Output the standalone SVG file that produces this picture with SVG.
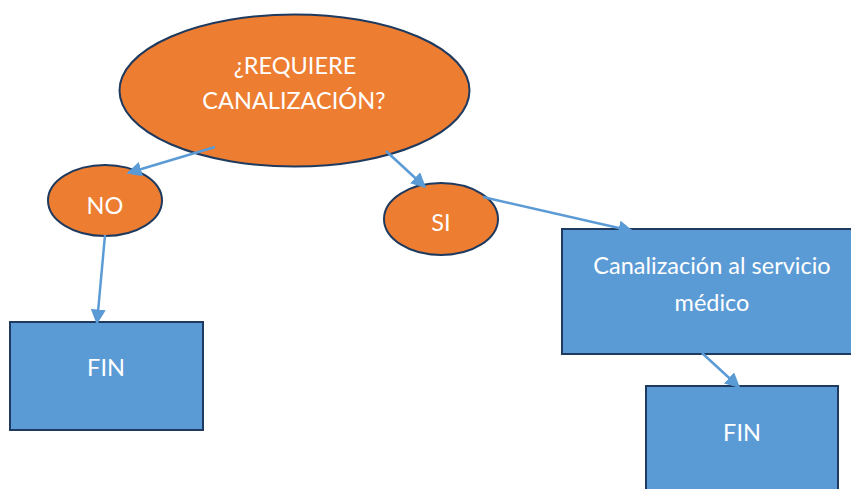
<svg xmlns="http://www.w3.org/2000/svg" width="851" height="489" viewBox="0 0 851 489">
<style>
.o{fill:#ED7D31;stroke:#1F3A5F;stroke-width:2}
.b{fill:#5B9BD5;stroke:#1F3A5F;stroke-width:2}
.t{fill:#fff;font-family:Lato,"Open Sans","Liberation Sans",sans-serif;font-size:23.5px;text-anchor:middle}
.c{stroke:#5B9BD5;stroke-width:2.5;fill:none;marker-end:url(#ah)}
</style>
<defs>
<marker id="ah" viewBox="0 0 10 10" refX="9" refY="5" markerWidth="6" markerHeight="6" markerUnits="strokeWidth" orient="auto">
<path d="M0,0 L10,5 L0,10 Z" fill="#5B9BD5"/>
</marker>
</defs>
<rect width="851" height="489" fill="#fff"/>
<g id="q"><ellipse class="o" cx="294.5" cy="90.5" rx="175" ry="76"/>
<text class="t" x="295" y="74">¿REQUIERE</text><text class="t" x="294" y="109">CANALIZACIÓN?</text></g>
<g id="no"><ellipse class="o" cx="105" cy="200.5" rx="57" ry="35.5"/><text class="t" x="105" y="214">NO</text></g>
<g id="si"><ellipse class="o" cx="441" cy="219" rx="57" ry="36"/><text class="t" x="441" y="231">SI</text></g>
<g id="fin1"><rect class="b" x="10" y="322" width="193" height="108"/><text class="t" x="106" y="376">FIN</text></g>
<g id="canal"><rect class="b" x="562" y="229" width="300" height="125"/>
<text class="t" x="712" y="274">Canalización al servicio</text><text class="t" x="712" y="311">médico</text></g>
<g id="fin2"><rect class="b" x="646" y="386" width="192" height="120"/><text class="t" x="742" y="441">FIN</text></g>
<g id="connectors">
<line class="c" x1="215" y1="147" x2="128" y2="173"/>
<line class="c" x1="105" y1="235" x2="97" y2="323"/>
<line class="c" x1="386" y1="151" x2="425" y2="187"/>
<line class="c" x1="483" y1="197" x2="632" y2="231"/>
<line class="c" x1="702" y1="353" x2="739" y2="387"/>
</g>
</svg>
